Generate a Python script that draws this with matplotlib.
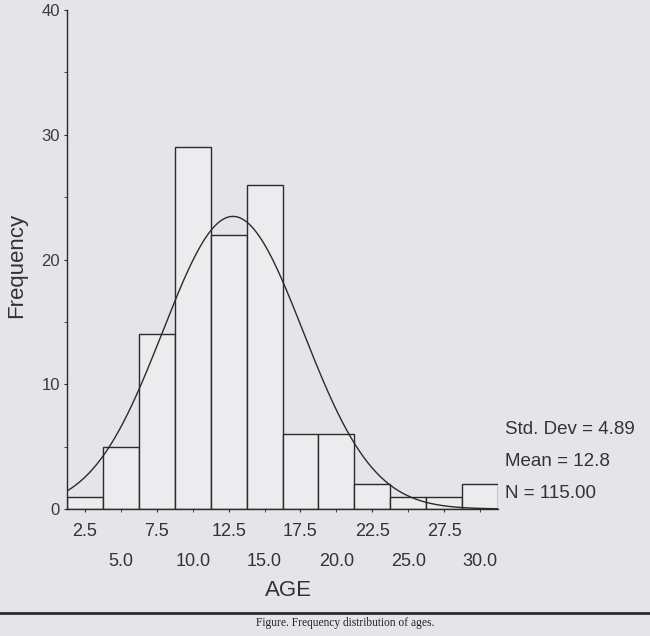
import numpy as np
import matplotlib.pyplot as plt
from matplotlib.lines import Line2D

# Histogram of ages (SPSS style) with normal curve
age_centers = [2.5, 5.0, 7.5, 10.0, 12.5, 15.0, 17.5, 20.0, 22.5, 25.0, 27.5, 30.0]
frequency = [1, 5, 14, 29, 22, 26, 6, 6, 2, 1, 1, 2]
bin_width = 2.5
std_dev = 4.89
mean = 12.8
n_total = 115

upper_ticks = [2.5, 7.5, 12.5, 17.5, 22.5, 27.5]
upper_labels = ['2.5', '7.5', '12.5', '17.5', '22.5', '27.5']
lower_ticks = [5.0, 10.0, 15.0, 20.0, 25.0, 30.0]
lower_labels = ['5.0', '10.0', '15.0', '20.0', '25.0', '30.0']
y_ticks = [0, 10, 20, 30, 40]

plt.rcParams['font.family'] = ['Liberation Sans', 'DejaVu Sans']
ink = '#2b2b2b'
paper = '#e5e5e9'

W, H = 650, 636
fig = plt.figure(figsize=(W / 100, H / 100), dpi=100)
fig.patch.set_facecolor(paper)
ax = fig.add_axes([67 / W, (H - 509) / H, (498 - 67) / W, (509 - 10) / H])
ax.set_facecolor('none')

ax.bar(age_centers, frequency, width=bin_width, facecolor='#ececef',
       edgecolor=ink, linewidth=1.0)

# normal curve scaled to counts
xs = np.linspace(1.25, 31.25, 300)
ys = n_total * bin_width / (std_dev * np.sqrt(2 * np.pi)) * np.exp(-0.5 * ((xs - mean) / std_dev) ** 2)
ax.plot(xs, ys, color=ink, lw=1.0)

ax.set_xlim(1.25, 31.25)
ax.set_ylim(0, 40)
for s in ['top', 'right']:
    ax.spines[s].set_visible(False)
for s in ['left', 'bottom']:
    ax.spines[s].set_color(ink)
    ax.spines[s].set_linewidth(1.0)

ax.set_yticks(y_ticks)
ax.set_yticks([5, 15, 25, 35], minor=True)
ax.tick_params(axis='y', which='both', length=2, color=ink, labelsize=12, pad=3, labelcolor='#3a3a3a')

ax.set_xticks(upper_ticks, upper_labels)
ax.set_xticks(lower_ticks, lower_labels, minor=True)
ax.tick_params(axis='x', which='major', length=2, color=ink, labelsize=13, pad=8, labelcolor='#333')
ax.tick_params(axis='x', which='minor', length=2, color=ink, labelsize=13, pad=30, labelcolor='#333')

fig.text(17 / W, 1 - 265 / H, 'Frequency', rotation=90, ha='center', va='center',
         fontsize=16, color='#333')
fig.text(288 / W, 1 - 591 / H, 'AGE', ha='center', va='center', fontsize=16, color='#333')

stats = ['Std. Dev = 4.89', 'Mean = 12.8', 'N = 115.00']
for txt, yy in zip(stats, [430, 462, 493]):
    fig.text(505 / W, 1 - yy / H, txt, ha='left', va='center', fontsize=13.5, color='#333')

fig.add_artist(Line2D([0, 1], [1 - 613 / H, 1 - 613 / H], color=ink, lw=2.0,
                      transform=fig.transFigure))
fig.text(345 / W, 1 - 623 / H, 'Figure. Frequency distribution of ages.', ha='center', va='center',
         fontsize=8.3, family=['Liberation Serif', 'DejaVu Serif'], color='#222')

fig.savefig('out.png', dpi=100, facecolor=fig.get_facecolor())
